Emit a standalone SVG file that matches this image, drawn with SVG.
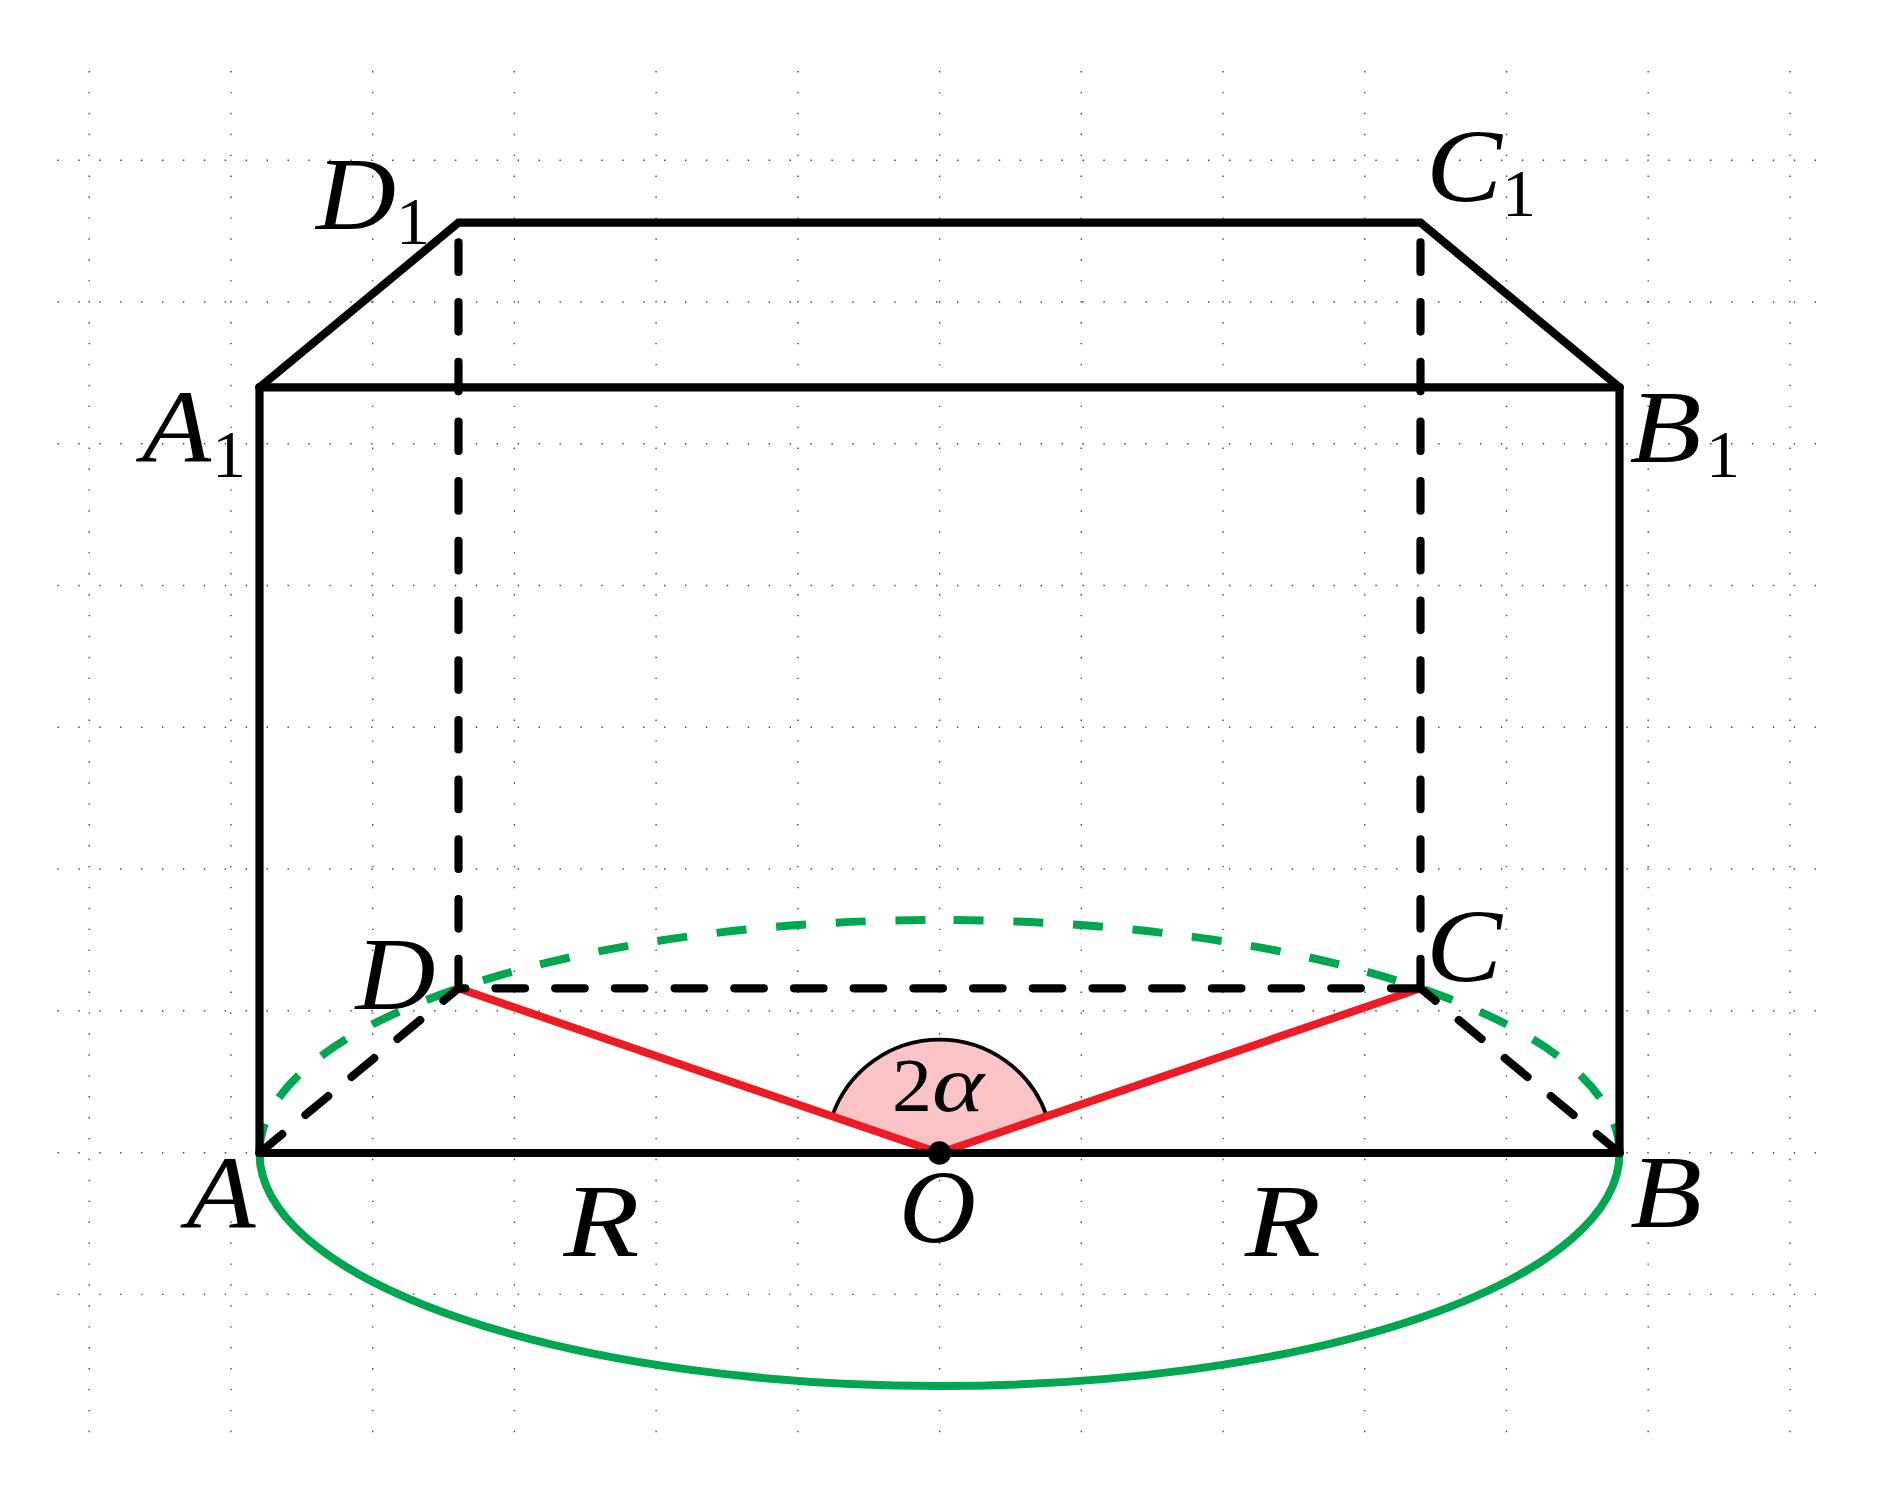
<svg xmlns="http://www.w3.org/2000/svg" width="1880" height="1489" viewBox="0 0 1880 1489">
<style>
.gx{stroke:#444;stroke-width:1.4;stroke-dasharray:1.4 19.52;fill:none}
.s{stroke:#000;stroke-width:8.2;fill:none;stroke-linejoin:miter;stroke-linecap:round}
.d{stroke:#000;stroke-width:8.2;fill:none;stroke-linecap:round;stroke-dasharray:29.5 30.2}
.g{stroke:#00a650;stroke-width:8;fill:none}
.gd{stroke-dasharray:30 29.7}
.r{stroke:#ed1c24;stroke-width:8;fill:none}
text{font-family:"Liberation Serif","Times New Roman",serif;fill:#000}
.m{font-style:italic;font-size:104px}
.n{font-size:68px}
</style>
<rect width="1880" height="1489" fill="#fff"/>
<g id="grid">
<path class="gx" d="M57.4 160.3H1816M57.4 302H1816M57.4 443.8H1816M57.4 585.5H1816M57.4 727.3H1816M57.4 869H1816M57.4 1010.8H1816M57.4 1152.7H1816M57.4 1294.4H1816"/>
<path class="gx" d="M89.2 71V1434M230.9 71V1434M372.7 71V1434M514.4 71V1434M656.1 71V1434M797.9 71V1434M939.6 71V1434M1081.3 71V1434M1223 71V1434M1364.8 71V1434M1506.5 71V1434M1648.2 71V1434M1790 71V1434"/>
</g>
<g id="connectors">
<path id="angle-fill" d="M939.5 1153L832.2 1116.1A113.5 113.5 0 0 1 1046.8 1116.1Z" fill="#fac4c6"/>
<path id="angle-arc" d="M832.2 1116.1A113.5 113.5 0 0 1 1046.8 1116.1" fill="none" stroke="#000" stroke-width="3.8"/>
<path id="arc-front" class="g" d="M259.5 1153A680 233 0 0 0 1619.5 1153"/>
<path id="arc-back-left" class="g gd" d="M259.5 1153A680 233 0 0 1 939.5 920"/>
<path id="arc-back-right" class="g gd" d="M1619.5 1153A680 233 0 0 0 939.5 920"/>
<path id="radius-OD" class="r" d="M939.5 1153L458.5 988.3"/>
<path id="radius-OC" class="r" d="M939.5 1153L1420.5 988.3"/>
<path id="edge-AB" class="s" d="M259.5 1153H1619.5"/>
<path id="edge-AA1" class="s" d="M259.5 1153V387.4"/>
<path id="edge-BB1" class="s" d="M1619.5 1153V387.4"/>
<path id="edge-A1B1" class="s" d="M259.5 387.4H1619.5"/>
<path id="edge-top" class="s" d="M259.5 387.4L458.5 222.7H1420.5L1619.5 387.4"/>
<path id="edge-DD1" class="d" d="M458.5 988.3V222.7"/>
<path id="edge-CC1" class="d" d="M1420.5 988.3V222.7"/>
<path id="edge-CD" class="d" d="M1420.5 988.3H458.5"/>
<path id="edge-AD" class="d" d="M259.5 1153L458.5 988.3"/>
<path id="edge-BC" class="d" d="M1619.5 1153L1420.5 988.3"/>
</g>
<g id="node-O"><circle cx="939.5" cy="1153" r="11.7" fill="#000"/><text class="m" x="899" y="1242" textLength="77" lengthAdjust="spacingAndGlyphs">O</text></g>
<g id="node-A"><text class="m" x="186.5" y="1228" textLength="69" lengthAdjust="spacingAndGlyphs">A</text></g>
<g id="node-B"><text class="m" x="1630" y="1227" textLength="72" lengthAdjust="spacingAndGlyphs">B</text></g>
<g id="node-C"><text class="m" x="1426" y="981" textLength="76" lengthAdjust="spacingAndGlyphs">C</text></g>
<g id="node-D"><text class="m" x="355.5" y="1009" textLength="80" lengthAdjust="spacingAndGlyphs">D</text></g>
<g id="node-A1"><text class="m" x="142" y="462" textLength="69" lengthAdjust="spacingAndGlyphs">A</text><text class="n" x="212" y="476.7">1</text></g>
<g id="node-B1"><text class="m" x="1629.5" y="461.7" textLength="72" lengthAdjust="spacingAndGlyphs">B</text><text class="n" x="1706" y="476.7">1</text></g>
<g id="node-C1"><text class="m" x="1426" y="201" textLength="76" lengthAdjust="spacingAndGlyphs">C</text><text class="n" x="1502" y="215.7">1</text></g>
<g id="node-D1"><text class="m" x="316" y="229" textLength="80" lengthAdjust="spacingAndGlyphs">D</text><text class="n" x="396" y="244.3">1</text></g>
<g id="label-R-left"><text class="m" x="563.5" y="1256" textLength="76" lengthAdjust="spacingAndGlyphs">R</text></g>
<g id="label-R-right"><text class="m" x="1245" y="1256" textLength="76" lengthAdjust="spacingAndGlyphs">R</text></g>
<g id="label-angle"><text x="892" y="1110.7" font-size="76" textLength="40" lengthAdjust="spacingAndGlyphs">2</text><text x="932" y="1110.7" font-size="80" font-style="italic" textLength="52" lengthAdjust="spacingAndGlyphs">α</text></g>
</svg>
